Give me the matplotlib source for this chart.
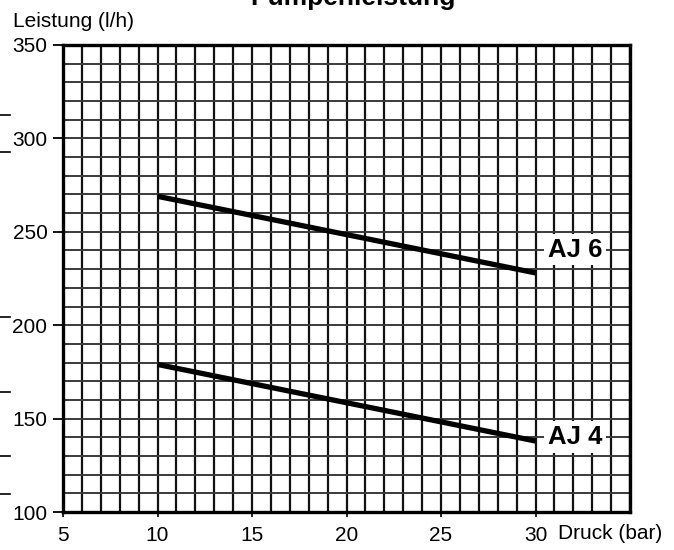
import matplotlib
matplotlib.use("Agg")
import matplotlib.pyplot as plt
from matplotlib.lines import Line2D
import numpy as np

plt.rcParams['font.family'] = ['Liberation Sans', 'DejaVu Sans']

# ---- data ----
title = "Pumpenleistung"
y_label = "Leistung (l/h)"
x_label = "Druck (bar)"
series_names = ["AJ 6", "AJ 4"]
druck = [10, 30]
aj6 = [269, 228]
aj4 = [179, 138]
label_pos_x = [32.1, 32.1]
label_pos_y = [240.5, 140.2]
x_ticks = [5, 10, 15, 20, 25, 30]
y_ticks = [100, 150, 200, 250, 300, 350]

W, H = 674, 550
fig = plt.figure(figsize=(W / 100, H / 100), dpi=100)
ax = fig.add_axes([63 / W, 1 - 512 / H, (630 - 63) / W, (512 - 45) / H])
ax.set_xlim(5, 35)
ax.set_ylim(100, 350)

# grid
for xv in np.arange(5, 36, 1):
    ax.axvline(xv, color="#111111", lw=1.6, zorder=1)
for yv in np.arange(100, 351, 10):
    ax.axhline(yv, color="#3a3a3a", lw=1.4, zorder=1)

for vals in (aj6, aj4):
    ax.plot(druck, vals, color="black", lw=3.8, solid_capstyle="butt", zorder=3)

for name, lx, ly in zip(series_names, label_pos_x, label_pos_y):
    ax.text(lx, ly, name, ha="center", va="center", fontsize=18.5,
            fontweight="bold", zorder=4,
            bbox=dict(facecolor="white", edgecolor="none", pad=2.5))

for s in ax.spines.values():
    s.set_linewidth(2.4)
    s.set_zorder(5)

ax.set_xticks(x_ticks)
ax.set_xticklabels([str(t) for t in x_ticks])
ax.set_yticks(y_ticks)
ax.set_yticklabels([str(t) for t in y_ticks])
ax.tick_params(axis="x", length=3.6, width=1.2, pad=6.5, labelsize=15)
ax.tick_params(axis="y", length=7.2, width=1.3, pad=4, labelsize=15)

fig.text(13 / W, 1 - 26.7 / H, y_label, ha="left", va="baseline", fontsize=15)
fig.text(558 / W, 1 - 539.3 / H, x_label, ha="left", va="baseline", fontsize=15)
fig.text(353 / W, 1 - 5 / H, title, ha="center", va="baseline",
         fontsize=19, fontweight="bold")

# stray scan marks at left edge
for yy in [115, 152, 317, 392, 456, 494]:
    fig.add_artist(Line2D([0, 10 / W], [1 - yy / H, 1 - yy / H],
                          color="black", lw=1.2))

fig.savefig("out.png", dpi=100)
